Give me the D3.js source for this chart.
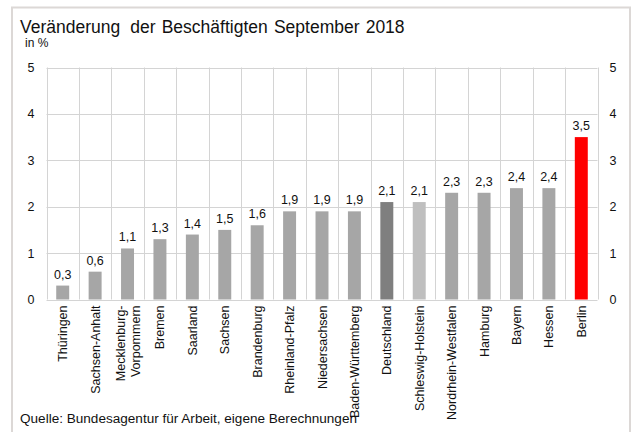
<!DOCTYPE html>
<html>
<head>
<meta charset="utf-8">
<script src="https://cdn.jsdelivr.net/npm/d3@7"></script>
<style>
  html, body { margin: 0; padding: 0; background: #fff; }
  svg { display: block; font-family: "Liberation Sans", Arial, sans-serif; }
</style>
</head>
<body>
<svg id="chart" width="632" height="432"></svg>
<script>
// Change in employment by federal state, September 2018 (percent)
const categories = [
  "Thüringen", "Sachsen-Anhalt", "Mecklenburg-\nVorpommern", "Bremen", "Saarland",
  "Sachsen", "Brandenburg", "Rheinland-Pfalz", "Niedersachsen", "Baden-Württemberg",
  "Deutschland", "Schleswig-Holstein", "Nordrhein-Westfalen", "Hamburg", "Bayern",
  "Hessen", "Berlin"
];
const values = [0.3, 0.6, 1.1, 1.3, 1.4, 1.5, 1.6, 1.9, 1.9, 1.9, 2.1, 2.1, 2.3, 2.3, 2.4, 2.4, 3.5];
const yTicks = [0, 1, 2, 3, 4, 5];

const titleHead = "Veränderung";
const titleRest = "der Beschäftigten September 2018";
const unitLabel = "in %";
const sourceNote = "Quelle: Bundesagentur für Arbeit, eigene Berechnungen";

const svg = d3.select("#chart");
const W = 632, H = 432;
const plot = { left: 46.5, right: 597.5, top: 67.5, bottom: 299.5 };

// Outer frame (open at the bottom edge)
svg.append("path")
  .attr("d", `M12,${H + 2} L12,7.5 L630,7.5 L630,${H + 2}`)
  .attr("fill", "none")
  .attr("stroke", "#dcd8d6")
  .attr("stroke-width", 2);

const x = d3.scaleBand()
  .domain(categories)
  .range([plot.left, plot.right])
  .paddingInner(0)
  .paddingOuter(0);

const y = d3.scaleLinear()
  .domain([0, 5])
  .range([plot.bottom, plot.top]);

const grid = svg.append("g").attr("stroke", "#d4d4d4").attr("stroke-width", 1);

// Horizontal gridlines
grid.selectAll("line.h")
  .data(yTicks)
  .join("line")
  .attr("class", "h")
  .attr("x1", plot.left).attr("x2", plot.right)
  .attr("y1", d => Math.round(y(d)) + 0.5).attr("y2", d => Math.round(y(d)) + 0.5);

// Vertical gridlines at each category boundary
const bounds = categories.map(c => x(c)).concat([plot.right]);
grid.selectAll("line.v")
  .data(bounds)
  .join("line")
  .attr("class", "v")
  .attr("y1", plot.top).attr("y2", plot.bottom)
  .attr("x1", d => Math.round(d) + 0.5).attr("x2", d => Math.round(d) + 0.5);

// Bars
const barW = x.bandwidth() * 0.4;
function barColor(c) {
  if (c === "Berlin") return "#ff0000";
  if (c === "Deutschland") return "#7f7f7f";
  if (c === "Schleswig-Holstein") return "#bfbfbf";
  return "#a6a6a6";
}
svg.append("g").selectAll("rect")
  .data(categories.map((c, i) => ({ c, v: values[i] })))
  .join("rect")
  .attr("x", d => x(d.c) + (x.bandwidth() - barW) / 2)
  .attr("width", barW)
  .attr("y", d => y(d.v))
  .attr("height", d => y(0) - y(d.v))
  .attr("fill", d => barColor(d.c));

// Value labels
svg.append("g").selectAll("text")
  .data(categories.map((c, i) => ({ c, v: values[i] })))
  .join("text")
  .attr("x", d => x(d.c) + x.bandwidth() / 2)
  .attr("y", d => y(d.v) - 7)
  .attr("text-anchor", "middle")
  .attr("font-size", 12.5)
  .attr("fill", "#111")
  .text(d => d3.format(".1f")(d.v).replace(".", ","));

// Left and right value axes
const axisText = (g) => g.call(s => s.select(".domain").remove())
  .call(s => s.selectAll(".tick line").remove())
  .call(s => s.selectAll("text").attr("font-size", 12.5).attr("fill", "#111")
    .attr("font-family", '"Liberation Sans", Arial, sans-serif'));

svg.append("g")
  .attr("transform", `translate(${plot.left - 12},0)`)
  .call(d3.axisLeft(y).tickValues(yTicks).tickSize(0).tickPadding(0).tickFormat(d3.format("d")))
  .call(axisText);

svg.append("g")
  .attr("transform", `translate(${plot.right + 12},0)`)
  .call(d3.axisRight(y).tickValues(yTicks).tickSize(0).tickPadding(0).tickFormat(d3.format("d")))
  .call(axisText);

// Rotated category labels
const catG = svg.append("g");
categories.forEach(c => {
  const lines = c.split("\n");
  const cx = x(c) + x.bandwidth() / 2;
  const lh = 15;
  lines.forEach((ln, j) => {
    const off = (j - (lines.length - 1) / 2) * lh;
    catG.append("text")
      .attr("transform", `translate(${cx + off + 4.5},${plot.bottom + 6}) rotate(-90)`)
      .attr("text-anchor", "end")
      .attr("font-size", 12.5)
      .attr("fill", "#111")
      .text(ln);
  });
});

// Title, unit and source
const t = svg.append("text")
  .attr("x", 20).attr("y", 33)
  .attr("font-size", 17.5)
  .attr("fill", "#111");
t.append("tspan").text(titleHead);
t.append("tspan").attr("dx", 10).attr("word-spacing", 1.3).text(titleRest);

svg.append("text")
  .attr("x", 25).attr("y", 47)
  .attr("font-size", 12)
  .attr("fill", "#111")
  .text(unitLabel);

svg.append("text")
  .attr("x", 20).attr("y", 423)
  .attr("font-size", 12)
  .attr("fill", "#111")
  .attr("textLength", 337)
  .attr("lengthAdjust", "spacingAndGlyphs")
  .text(sourceNote);
</script>
</body>
</html>
